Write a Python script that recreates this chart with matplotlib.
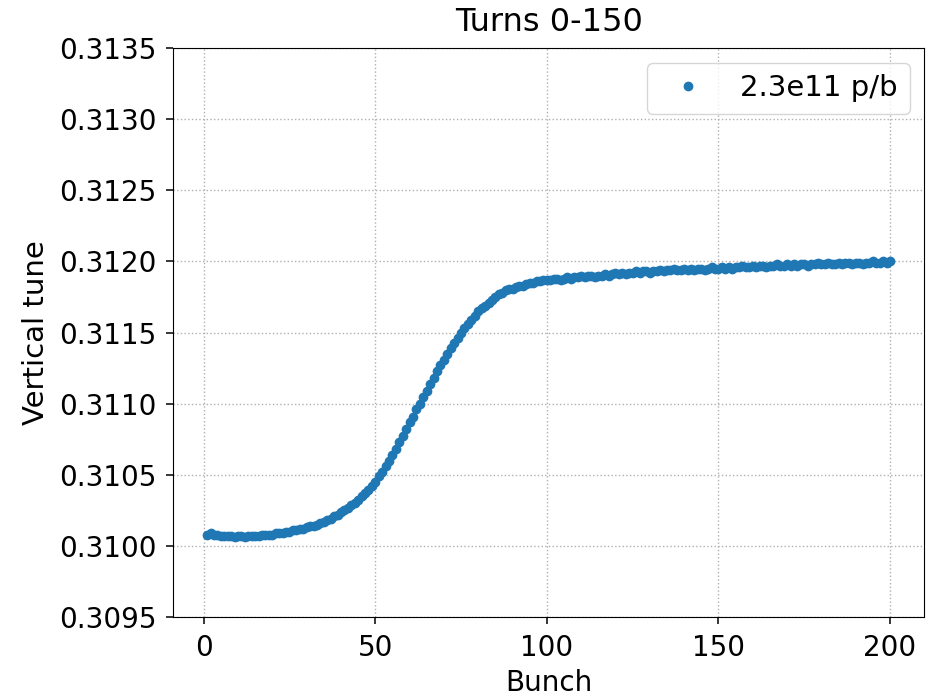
import numpy as np
import matplotlib
matplotlib.use("Agg")
import matplotlib.pyplot as plt

bunch = np.arange(1, 201)
tune = [
    0.31008, 0.31009, 0.31008, 0.31008, 0.31007, 0.31007, 0.31007, 0.31007, 0.31006, 0.31007,
    0.31007, 0.31006, 0.31007, 0.31007, 0.31007, 0.31007, 0.31008, 0.31008, 0.31008, 0.31008,
    0.31009, 0.31009, 0.31009, 0.31010, 0.31010, 0.31011, 0.31011, 0.31012, 0.31012, 0.31013,
    0.31014, 0.31014, 0.31015, 0.31016, 0.31017, 0.31018, 0.31019, 0.31021, 0.31022, 0.31024,
    0.31025, 0.31027, 0.31029, 0.31030, 0.31032, 0.31035, 0.31037, 0.31039, 0.31042, 0.31045,
    0.31049, 0.31052, 0.31056, 0.31060, 0.31064, 0.31068, 0.31073, 0.31077, 0.31082, 0.31087,
    0.31091, 0.31096, 0.31100, 0.31105, 0.31109, 0.31114, 0.31118, 0.31123, 0.31127, 0.31131,
    0.31135, 0.31139, 0.31143, 0.31146, 0.31150, 0.31153, 0.31156, 0.31159, 0.31162, 0.31165,
    0.31167, 0.31169, 0.31171, 0.31173, 0.31175, 0.31177, 0.31178, 0.31180, 0.31181, 0.31181,
    0.31182, 0.31183, 0.31183, 0.31184, 0.31185, 0.31185, 0.31186, 0.31186, 0.31187, 0.31187,
    0.31187, 0.31188, 0.31188, 0.31187, 0.31188, 0.31189, 0.31188, 0.31189, 0.31189, 0.31190,
    0.31189, 0.31190, 0.31190, 0.31189, 0.31190, 0.31190, 0.31191, 0.31190, 0.31191, 0.31192,
    0.31191, 0.31192, 0.31191, 0.31192, 0.31192, 0.31193, 0.31192, 0.31193, 0.31193, 0.31192,
    0.31193, 0.31193, 0.31194, 0.31193, 0.31194, 0.31194, 0.31195, 0.31194, 0.31194, 0.31195,
    0.31194, 0.31195, 0.31194, 0.31195, 0.31195, 0.31194, 0.31195, 0.31196, 0.31195, 0.31195,
    0.31196, 0.31195, 0.31196, 0.31195, 0.31196, 0.31196, 0.31197, 0.31196, 0.31196, 0.31197,
    0.31196, 0.31197, 0.31197, 0.31196, 0.31197, 0.31197, 0.31198, 0.31197, 0.31197, 0.31198,
    0.31197, 0.31198, 0.31197, 0.31198, 0.31198, 0.31197, 0.31198, 0.31198, 0.31199, 0.31198,
    0.31198, 0.31199, 0.31198, 0.31198, 0.31199, 0.31198, 0.31199, 0.31199, 0.31198, 0.31199,
    0.31199, 0.31198, 0.31199, 0.31199, 0.31200, 0.31199, 0.31199, 0.31200, 0.31199, 0.31200,
]
yticks = [0.3095, 0.3100, 0.3105, 0.3110, 0.3115, 0.3120, 0.3125, 0.3130, 0.3135]

fig = plt.figure(figsize=(9.32, 6.98), dpi=100)
ax = fig.add_axes([0.1856, 0.116, 0.806, 0.815])
ax.plot(bunch, tune, "o", color="C0", ms=6, label="2.3e11 p/b")
ax.set_ylim(0.3095, 0.3135)
ax.set_yticks(yticks)
ax.set_yticklabels(["%.4f" % v for v in yticks])
ax.set_xticks([0, 50, 100, 150, 200])
ax.tick_params(labelsize=20, length=5, width=1.1, pad=7)
ax.set_xlabel("Bunch", fontsize=20, labelpad=5)
ax.set_ylabel("Vertical tune", fontsize=21, labelpad=6)
ax.set_title("Turns 0-150", fontsize=23, pad=12)
ax.grid(ls=":", lw=1)
ax.legend(loc="upper right", fontsize=21)
fig.savefig("out.png")
